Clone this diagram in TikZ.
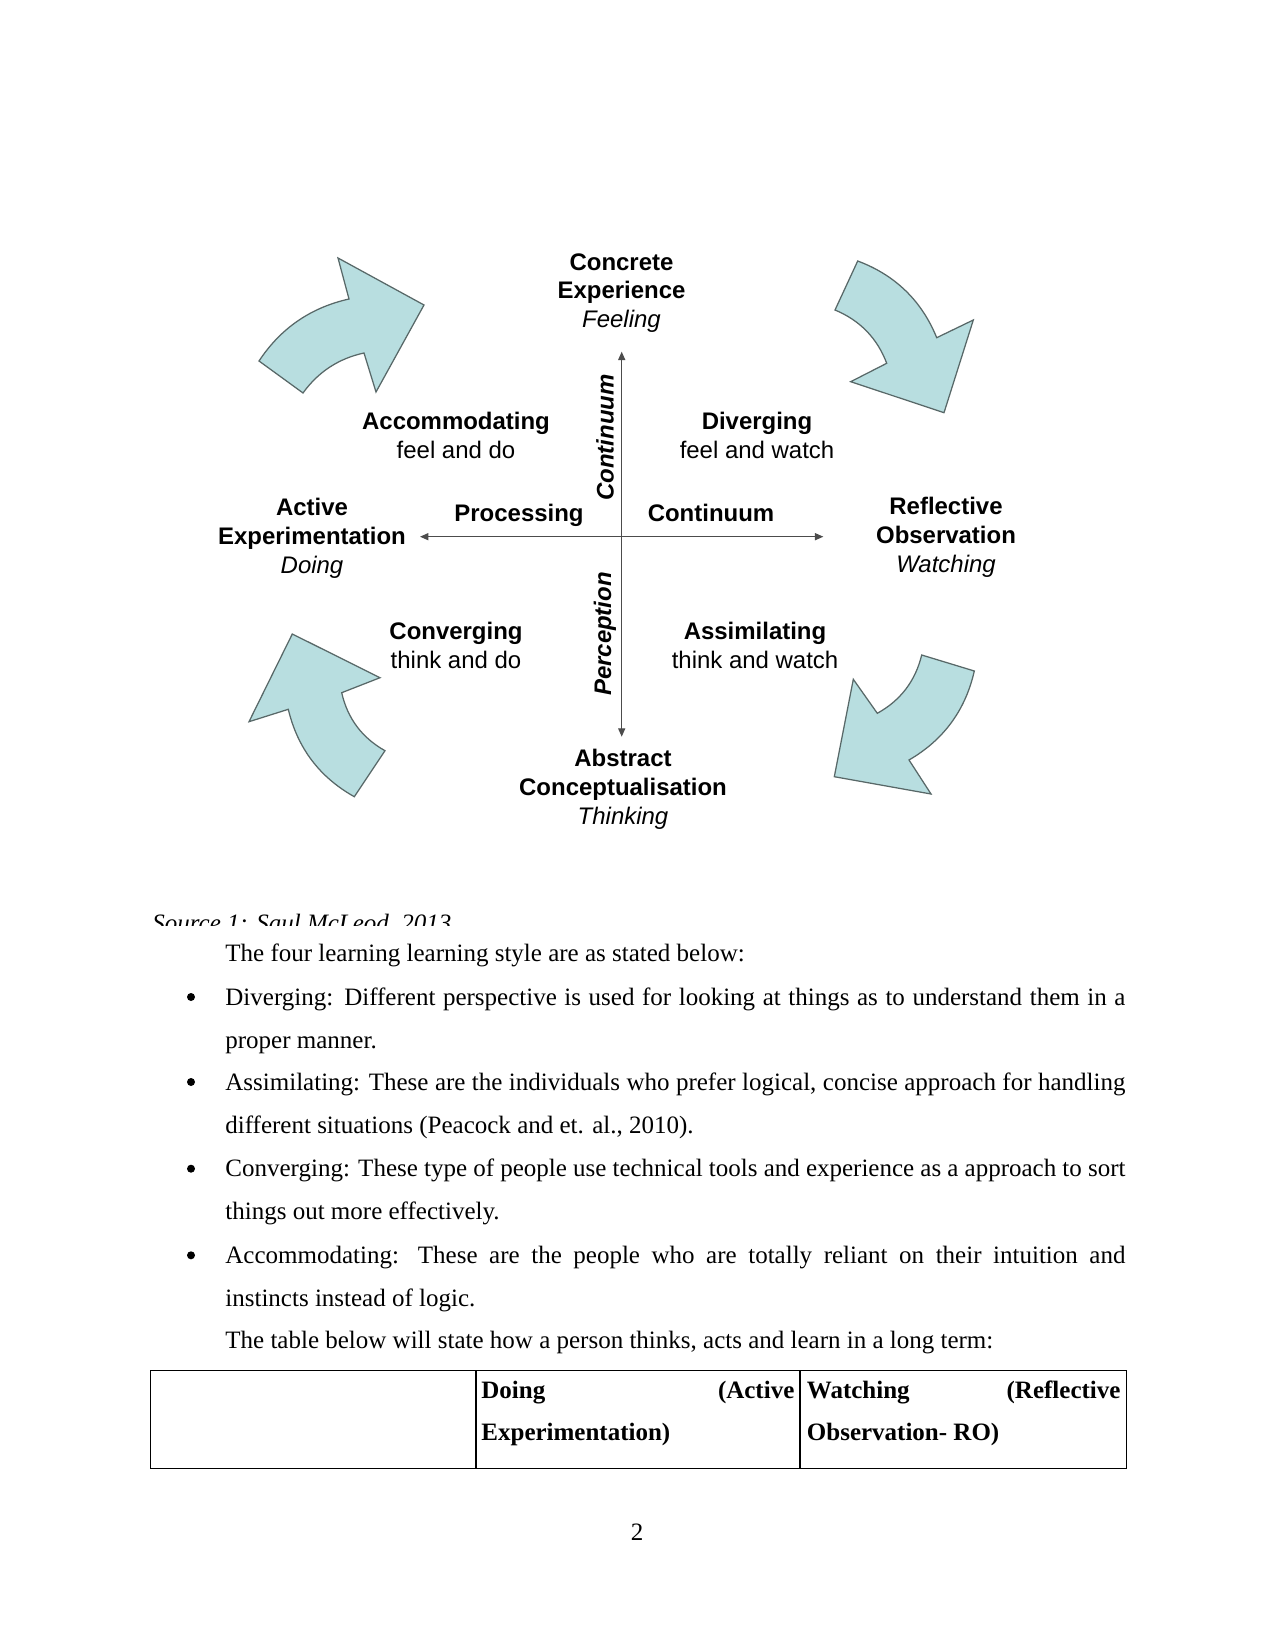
\documentclass[tikz,border=0pt]{standalone}
\usepackage{fontspec}
\setmainfont{Liberation Serif}
\newfontfamily\diagfont{Liberation Sans}
\usetikzlibrary{arrows.meta,positioning}
\definecolor{cyclefill}{RGB}{184,222,224}
\definecolor{cycleedge}{RGB}{88,104,104}

\begin{document}
\begin{tikzpicture}[
  x=0.48pt, y=-0.48pt,
  cyclearrow/.style={
    fill=cyclefill, draw=cycleedge, line width=0.6pt, line join=miter
  },
  pole/.style={
    anchor=base, align=center, inner sep=0pt,
    font=\diagfont\fontsize{11.5}{13.8}\selectfont
  },
  axisword/.style={
    anchor=base, inner sep=0pt,
    font=\diagfont\bfseries\fontsize{11.5}{13.8}\selectfont
  },
  sideword/.style={
    rotate=90, inner sep=0pt,
    font=\diagfont\bfseries\itshape\fontsize{11.5}{13.8}\selectfont
  },
  axisline/.style={
    line width=0.5pt, draw=black!70,
    {Triangle[length=4pt,width=3.4pt]}-{Triangle[length=4pt,width=3.4pt]}
  },
  bodytext/.style={
    anchor=base west, inner sep=0pt,
    font=\fontsize{12}{20.7}\selectfont
  },
  bulletpara/.style={
    bodytext, text width=432pt, align=justify
  },
  cellhead/.style={
    anchor=base west, inner sep=0pt, align=left,
    font=\bfseries\fontsize{12}{20}\selectfont
  }
]

% Page
\fill[white] (0,0) rectangle (1275,1650);
\useasboundingbox (0,0) rectangle (1275,1650);

% ===== Cycle arrows =====
% Accommodating -> Concrete Experience
\draw[cyclearrow] (338,258) -- (424,305) -- (376,392) -- (364,353)
  .. controls (338.6,358.5) and (318.2,371.9) .. (303,393) -- (259,361)
  .. controls (280.7,328.2) and (310.7,307.6) .. (349,299) -- cycle;
% Concrete Experience -> Reflective Observation
\draw[cyclearrow] (857.7,261) -- (835,310)
  .. controls (859.9,320.4) and (877.2,338.1) .. (886.7,363.3) -- (850.7,381.7)
  -- (944,412.7) -- (973.3,320) -- (936.7,337.7)
  .. controls (921.6,300.6) and (895.2,275.1) .. (857.7,261) -- cycle;
% Abstract Conceptualisation -> Active Experimentation
\draw[cyclearrow] (292.3,634) -- (380,677.7) -- (341.7,692.7)
  .. controls (347.5,718.4) and (362,737.8) .. (385,750.7) -- (354.3,796.7)
  .. controls (319.5,777.2) and (297.5,748) .. (288.3,709.3) -- (249,721.7) -- cycle;
% Reflective Observation -> Abstract Conceptualisation
\draw[cyclearrow] (921.7,655) -- (974.3,671)
  .. controls (965.4,710.2) and (943.7,739.8) .. (909,760) -- (931,794) -- (834.3,776.7)
  -- (853.3,679.3) -- (877.3,713.3)
  .. controls (900.6,700.4) and (915.4,680.9) .. (921.7,655) -- cycle;

% ===== Axes =====
\coordinate (vtop) at (621.7,351.7);
\coordinate (vbot) at (621.7,736.7);
\coordinate (hleft) at (420,536.7);
\coordinate (hright) at (823.3,536.7);
\draw[axisline] (vtop) -- (vbot);
\draw[axisline] (hleft) -- (hright);

% Poles (anchored at the last line)
\node[pole] (ce) at (621.5,327.7) {\bfseries Concrete\\\bfseries Experience\\\itshape Feeling};
\node[pole] (ae) at (312,573) {\bfseries Active\\\bfseries Experimentation\\\itshape Doing};
\node[pole] (ro) at (946,572.3) {\bfseries Reflective\\\bfseries Observation\\\itshape Watching};
\node[pole] (ac) at (623,824) {\bfseries Abstract\\\bfseries Conceptualisation\\\itshape Thinking};

% Quadrants
\node[pole] (acc) at (456,458.3) {\bfseries Accommodating\\feel and do};
\node[pole] (div) at (757,458.3) {\bfseries Diverging\\feel and watch};
\node[pole] (conv) at (456,668.3) {\bfseries Converging\\think and do};
\node[pole] (assim) at (755,668.3) {\bfseries Assimilating\\think and watch};

% Axis names
\node[axisword] (proc) at (519,521.7) {Processing};
\node[axisword] (contr) at (711,521.7) {Continuum};
\node[sideword] (contv) at (605,437.5) {Continuum};
\node[sideword] (perc) at (605,634) {Perception};

% ===== Caption (cut off) =====
\begin{scope}
  \clip (140,900) rectangle (480,925.5);
  \node[anchor=base west, inner sep=0pt, font=\itshape\fontsize{12}{14}\selectfont]
    (src) at (152,931) {Source 1: Saul McLeod, 2013};
\end{scope}

% ===== Body text =====
\node[bodytext] (intro) at (225,961.7) {The four learning learning style are as stated below:};
\node[bulletpara] (pdiv) at (225,1005)
  {Diverging: Different perspective is used for looking at things as to understand them in a\linebreak proper manner.};
\node[bulletpara] (pass) at (225,1090)
  {Assimilating: These are the individuals who prefer logical, concise approach for handling\linebreak different situations (Peacock and et. al., 2010).};
\node[bulletpara] (pcon) at (225,1176.7)
  {Converging: These type of people use technical tools and experience as a approach to sort\linebreak things out more effectively.};
\node[bulletpara] (pacc) at (225,1263.3)
  {Accommodating: These are the people who are totally reliant on their intuition and\linebreak instincts instead of logic.};
\foreach \y in {1005,1090,1176.7,1263.3}
  \fill (191,\y-8) circle (4);
\node[bodytext] (outro) at (225,1348.3) {The table below will state how a person thinks, acts and learn in a long term:};

% ===== Table =====
\draw[line width=0.6pt] (150.8,1370.7) rectangle (1126.6,1468.3);
\foreach \x in {476,800}
  \draw[line width=0.6pt] (\x,1370.7) -- (\x,1468.3);
\node[cellhead] (doing) at (481,1440) {\makebox[150.2pt][s]{Doing (Active}\\Experimentation)};
\node[cellhead] (watching) at (806.5,1440) {\makebox[150.5pt][s]{Watching (Reflective}\\Observation- RO)};

% Page number
\node[anchor=base, inner sep=0pt, font=\fontsize{12}{14}\selectfont] (pageno) at (637,1540) {2};

\end{tikzpicture}
\end{document}
